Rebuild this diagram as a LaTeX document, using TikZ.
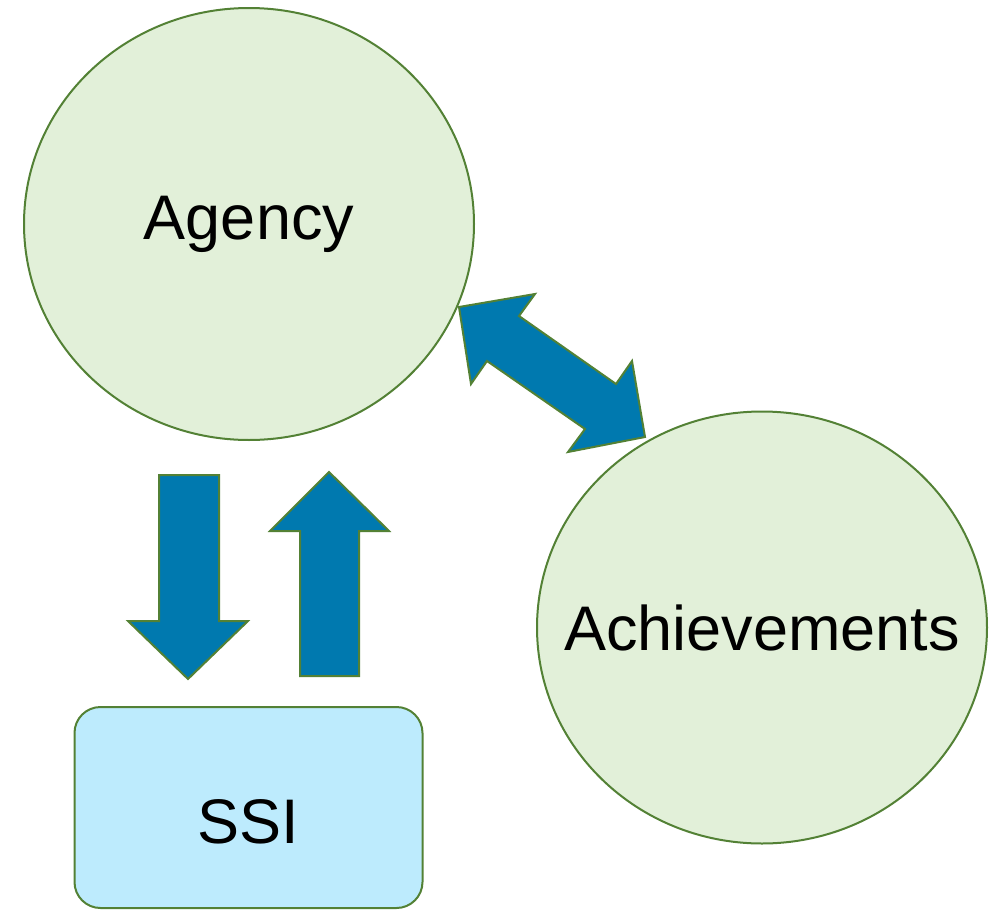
\documentclass[tikz,border=0pt]{standalone}
\usepackage{fontspec}
\setmainfont{Liberation Sans}
\usetikzlibrary{shapes.geometric}
\definecolor{circfill}{HTML}{E2F0D9}
\definecolor{edgegreen}{HTML}{538135}
\definecolor{arrowblue}{HTML}{0079AF}
\definecolor{boxblue}{HTML}{BDEBFD}
\tikzset{
  bubble/.style={ellipse, draw=edgegreen, line width=2pt, fill=circfill,
    minimum width=450pt, minimum height=432pt, inner sep=0pt},
  ssibox/.style={rectangle, rounded corners=26pt, draw=edgegreen, line width=2pt,
    fill=boxblue, minimum width=348pt, minimum height=201pt, inner sep=0pt},
  bigtext/.style={font=\fontsize{63}{70}\selectfont, inner sep=0pt},
  blockarrow/.style={draw=edgegreen, line width=2pt, fill=arrowblue, line join=miter}
}
\begin{document}
\begin{tikzpicture}[x=1pt,y=-1pt]
\useasboundingbox (0,0) rectangle (996,910);
\node[bubble] (agency) at (249,224) {};
\node[bigtext] (agencytext) at (agency.center) {Agency};
\node[bubble] (ach) at (762,627.5) {};
\node[bigtext] (achtext) at (ach.center) {Achievements};
\node[ssibox] (ssi) at (248.5,807.5) {};
\node[bigtext] (ssitext) at (248.5,822) {SSI};
% down arrow
\draw[blockarrow] (159,475) -- (219,475) -- (219,621) -- (248,621) -- (188,679)
  -- (128,621) -- (159,621) -- cycle;
% up arrow
\draw[blockarrow] (300,676) -- (359,676) -- (359,531) -- (389,531) -- (329,472)
  -- (270,531) -- (300,531) -- cycle;
% double arrow
\draw[blockarrow] (459,307) -- (535,294) -- (519,316) -- (616,384) -- (632,361)
  -- (645,437) -- (568,452) -- (585,429) -- (487,361) -- (471,384) -- cycle;
\end{tikzpicture}
\end{document}
